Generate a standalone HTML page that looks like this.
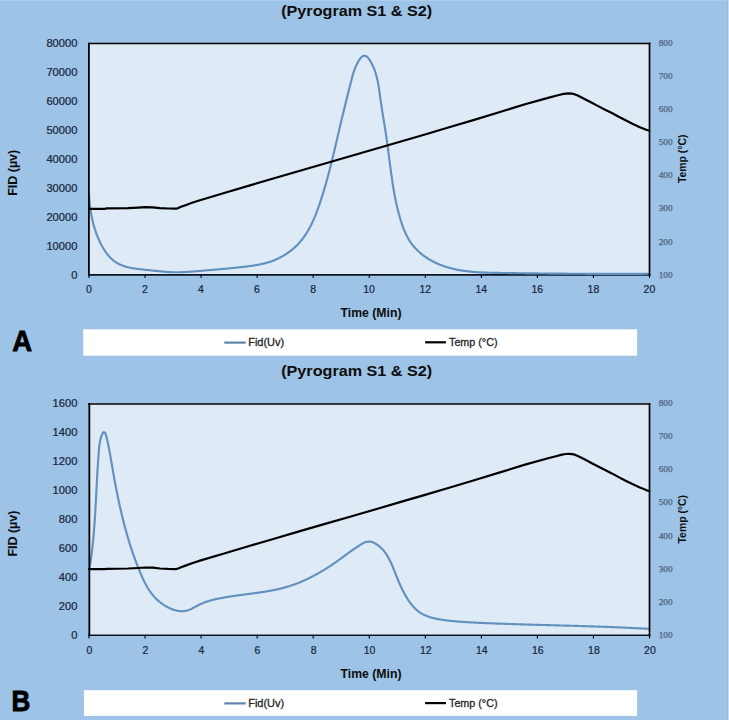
<!DOCTYPE html>
<html><head><meta charset="utf-8"><title>Pyrogram S1 &amp; S2</title>
<style>
html,body{margin:0;padding:0;background:#9dc3e6;}
body{width:729px;height:720px;overflow:hidden;}
svg{display:block;font-family:"Liberation Sans", sans-serif;}
</style></head>
<body>
<svg width="729" height="720" viewBox="0 0 729 720">
<rect width="729" height="720" fill="#9dc3e6"/>
<rect width="729" height="1" fill="#a9cbec"/>
<rect x="727" width="1" height="720" fill="#9bbbd8"/>
<rect x="728" width="1" height="720" fill="#c2ddf5"/>
<rect x="89" y="43.0" width="560.5" height="232.0" fill="#deebf7"/>
<text x="356.7" y="16.0" font-size="15" font-weight="bold" text-anchor="middle" textLength="151" lengthAdjust="spacingAndGlyphs" fill="#0d0d0d">(Pyrogram S1 &amp; S2)</text>
<text x="77.4" y="278.8" font-size="10.6" text-anchor="end" fill="#172640" stroke="#172640" stroke-width="0.22" textLength="6.2" lengthAdjust="spacingAndGlyphs">0</text>
<text x="77.4" y="249.8" font-size="10.6" text-anchor="end" fill="#172640" stroke="#172640" stroke-width="0.22" textLength="31.0" lengthAdjust="spacingAndGlyphs">10000</text>
<text x="77.4" y="220.8" font-size="10.6" text-anchor="end" fill="#172640" stroke="#172640" stroke-width="0.22" textLength="31.0" lengthAdjust="spacingAndGlyphs">20000</text>
<text x="77.4" y="191.8" font-size="10.6" text-anchor="end" fill="#172640" stroke="#172640" stroke-width="0.22" textLength="31.0" lengthAdjust="spacingAndGlyphs">30000</text>
<text x="77.4" y="162.8" font-size="10.6" text-anchor="end" fill="#172640" stroke="#172640" stroke-width="0.22" textLength="31.0" lengthAdjust="spacingAndGlyphs">40000</text>
<text x="77.4" y="133.8" font-size="10.6" text-anchor="end" fill="#172640" stroke="#172640" stroke-width="0.22" textLength="31.0" lengthAdjust="spacingAndGlyphs">50000</text>
<text x="77.4" y="104.8" font-size="10.6" text-anchor="end" fill="#172640" stroke="#172640" stroke-width="0.22" textLength="31.0" lengthAdjust="spacingAndGlyphs">60000</text>
<text x="77.4" y="75.8" font-size="10.6" text-anchor="end" fill="#172640" stroke="#172640" stroke-width="0.22" textLength="31.0" lengthAdjust="spacingAndGlyphs">70000</text>
<text x="77.4" y="46.8" font-size="10.6" text-anchor="end" fill="#172640" stroke="#172640" stroke-width="0.22" textLength="31.0" lengthAdjust="spacingAndGlyphs">80000</text>
<text x="658.7" y="277.6" font-family="Liberation Serif, serif" font-size="8.8" fill="#4b627d" stroke="#4b627d" stroke-width="0.25" textLength="13.8" lengthAdjust="spacingAndGlyphs">100</text>
<text x="658.7" y="244.5" font-family="Liberation Serif, serif" font-size="8.8" fill="#4b627d" stroke="#4b627d" stroke-width="0.25" textLength="13.8" lengthAdjust="spacingAndGlyphs">200</text>
<text x="658.7" y="211.3" font-family="Liberation Serif, serif" font-size="8.8" fill="#4b627d" stroke="#4b627d" stroke-width="0.25" textLength="13.8" lengthAdjust="spacingAndGlyphs">300</text>
<text x="658.7" y="178.2" font-family="Liberation Serif, serif" font-size="8.8" fill="#4b627d" stroke="#4b627d" stroke-width="0.25" textLength="13.8" lengthAdjust="spacingAndGlyphs">400</text>
<text x="658.7" y="145.0" font-family="Liberation Serif, serif" font-size="8.8" fill="#4b627d" stroke="#4b627d" stroke-width="0.25" textLength="13.8" lengthAdjust="spacingAndGlyphs">500</text>
<text x="658.7" y="111.9" font-family="Liberation Serif, serif" font-size="8.8" fill="#4b627d" stroke="#4b627d" stroke-width="0.25" textLength="13.8" lengthAdjust="spacingAndGlyphs">600</text>
<text x="658.7" y="78.7" font-family="Liberation Serif, serif" font-size="8.8" fill="#4b627d" stroke="#4b627d" stroke-width="0.25" textLength="13.8" lengthAdjust="spacingAndGlyphs">700</text>
<text x="658.7" y="45.6" font-family="Liberation Serif, serif" font-size="8.8" fill="#4b627d" stroke="#4b627d" stroke-width="0.25" textLength="13.8" lengthAdjust="spacingAndGlyphs">800</text>
<text x="88.9" y="292.9" font-size="10.0" text-anchor="middle" fill="#172640" stroke="#172640" stroke-width="0.22" textLength="5.8" lengthAdjust="spacingAndGlyphs">0</text>
<text x="145.0" y="292.9" font-size="10.0" text-anchor="middle" fill="#172640" stroke="#172640" stroke-width="0.22" textLength="5.8" lengthAdjust="spacingAndGlyphs">2</text>
<text x="201.0" y="292.9" font-size="10.0" text-anchor="middle" fill="#172640" stroke="#172640" stroke-width="0.22" textLength="5.8" lengthAdjust="spacingAndGlyphs">4</text>
<text x="257.0" y="292.9" font-size="10.0" text-anchor="middle" fill="#172640" stroke="#172640" stroke-width="0.22" textLength="5.8" lengthAdjust="spacingAndGlyphs">6</text>
<text x="313.1" y="292.9" font-size="10.0" text-anchor="middle" fill="#172640" stroke="#172640" stroke-width="0.22" textLength="5.8" lengthAdjust="spacingAndGlyphs">8</text>
<text x="369.1" y="292.9" font-size="10.0" text-anchor="middle" fill="#172640" stroke="#172640" stroke-width="0.22" textLength="11.6" lengthAdjust="spacingAndGlyphs">10</text>
<text x="425.2" y="292.9" font-size="10.0" text-anchor="middle" fill="#172640" stroke="#172640" stroke-width="0.22" textLength="11.6" lengthAdjust="spacingAndGlyphs">12</text>
<text x="481.2" y="292.9" font-size="10.0" text-anchor="middle" fill="#172640" stroke="#172640" stroke-width="0.22" textLength="11.6" lengthAdjust="spacingAndGlyphs">14</text>
<text x="537.3" y="292.9" font-size="10.0" text-anchor="middle" fill="#172640" stroke="#172640" stroke-width="0.22" textLength="11.6" lengthAdjust="spacingAndGlyphs">16</text>
<text x="593.4" y="292.9" font-size="10.0" text-anchor="middle" fill="#172640" stroke="#172640" stroke-width="0.22" textLength="11.6" lengthAdjust="spacingAndGlyphs">18</text>
<text x="649.4" y="292.9" font-size="10.0" text-anchor="middle" fill="#172640" stroke="#172640" stroke-width="0.22" textLength="11.6" lengthAdjust="spacingAndGlyphs">20</text>
<text x="371" y="316.7" font-size="12" font-weight="bold" text-anchor="middle" fill="#0d0d0d" textLength="61" lengthAdjust="spacingAndGlyphs">Time (Min)</text>
<text transform="translate(17,195.8) rotate(-90)" font-size="12.2" font-weight="bold" fill="#0d0d0d" textLength="46" lengthAdjust="spacingAndGlyphs">FID (µv)</text>
<text transform="translate(685.7,183.1) rotate(-90)" font-size="10.5" font-weight="bold" fill="#0d0d0d" textLength="48.5" lengthAdjust="spacingAndGlyphs">Temp (°C)</text>
<path d="M88,274.90 H650.4" stroke="#0c1424" stroke-width="1.6" fill="none"/>
<path d="M89.00,275.00 V278.00" stroke="#000" stroke-width="1.1"/>
<path d="M145.05,275.00 V278.00" stroke="#000" stroke-width="1.1"/>
<path d="M201.10,275.00 V278.00" stroke="#000" stroke-width="1.1"/>
<path d="M257.15,275.00 V278.00" stroke="#000" stroke-width="1.1"/>
<path d="M313.20,275.00 V278.00" stroke="#000" stroke-width="1.1"/>
<path d="M369.25,275.00 V278.00" stroke="#000" stroke-width="1.1"/>
<path d="M425.30,275.00 V278.00" stroke="#000" stroke-width="1.1"/>
<path d="M481.35,275.00 V278.00" stroke="#000" stroke-width="1.1"/>
<path d="M537.40,275.00 V278.00" stroke="#000" stroke-width="1.1"/>
<path d="M593.45,275.00 V278.00" stroke="#000" stroke-width="1.1"/>
<path d="M649.50,275.00 V278.00" stroke="#000" stroke-width="1.1"/>
<path d="M89.03,193.98 L89.07,194.69 L89.11,195.40 L89.15,196.11 L89.20,196.82 L89.24,197.53 L89.29,198.24 L89.34,198.94 L89.40,199.65 L89.45,200.35 L89.51,201.05 L89.58,201.76 L89.64,202.46 L89.71,203.15 L89.78,203.85 L89.86,204.55 L89.93,205.25 L90.01,205.94 L90.09,206.63 L90.18,207.33 L90.27,208.02 L90.36,208.71 L90.46,209.40 L90.56,210.09 L90.66,210.77 L90.76,211.46 L90.87,212.15 L90.98,212.83 L91.10,213.51 L91.22,214.20 L91.34,214.88 L91.47,215.56 L91.60,216.24 L91.73,216.92 L91.87,217.59 L92.01,218.27 L92.16,218.95 L92.31,219.62 L92.46,220.30 L92.62,220.97 L92.78,221.64 L92.94,222.32 L93.11,222.99 L93.28,223.66 L93.46,224.33 L93.64,224.99 L93.83,225.66 L94.02,226.33 L94.21,226.99 L94.41,227.66 L94.62,228.32 L94.82,228.99 L95.04,229.65 L95.25,230.31 L95.47,230.98 L95.70,231.64 L95.93,232.30 L96.17,232.96 L96.41,233.62 L96.65,234.27 L96.90,234.93 L97.16,235.59 L97.42,236.24 L97.68,236.90 L97.95,237.55 L98.23,238.21 L98.51,238.86 L98.80,239.52 L99.09,240.17 L99.38,240.82 L99.68,241.47 L99.99,242.11 L100.30,242.76 L100.62,243.40 L100.95,244.04 L101.28,244.68 L101.61,245.31 L101.95,245.95 L102.30,246.57 L102.65,247.20 L103.01,247.81 L103.38,248.43 L103.75,249.04 L104.13,249.64 L104.51,250.24 L104.90,250.83 L105.30,251.42 L105.70,252.00 L106.11,252.57 L106.53,253.14 L106.95,253.70 L107.39,254.25 L107.82,254.79 L108.27,255.33 L108.72,255.86 L109.18,256.37 L109.64,256.89 L110.12,257.39 L110.60,257.88 L111.08,258.36 L111.58,258.83 L112.08,259.29 L112.59,259.74 L113.11,260.18 L113.63,260.61 L114.17,261.03 L114.71,261.44 L115.26,261.83 L115.81,262.21 L116.38,262.58 L116.95,262.94 L117.53,263.28 L118.12,263.61 L118.72,263.93 L119.32,264.23 L119.93,264.52 L120.55,264.81 L121.18,265.07 L121.81,265.33 L122.45,265.58 L123.09,265.82 L123.74,266.04 L124.40,266.26 L125.06,266.47 L125.73,266.67 L126.40,266.86 L127.08,267.04 L127.76,267.21 L128.44,267.37 L129.13,267.53 L129.83,267.68 L130.52,267.82 L131.22,267.96 L131.92,268.09 L132.63,268.22 L133.34,268.33 L134.05,268.45 L134.76,268.56 L135.48,268.66 L136.19,268.76 L136.91,268.85 L137.63,268.95 L138.35,269.03 L139.07,269.12 L139.79,269.20 L140.51,269.28 L141.23,269.36 L141.95,269.44 L142.67,269.51 L143.39,269.59 L144.10,269.66 L144.82,269.73 L145.53,269.81 L146.25,269.88 L146.96,269.95 L147.67,270.03 L148.37,270.10 L149.08,270.18 L149.78,270.25 L150.48,270.33 L151.18,270.40 L151.88,270.48 L152.58,270.56 L153.27,270.63 L153.97,270.71 L154.66,270.78 L155.35,270.86 L156.04,270.93 L156.73,271.01 L157.41,271.08 L158.10,271.15 L158.79,271.22 L159.47,271.29 L160.15,271.36 L160.84,271.43 L161.52,271.49 L162.20,271.55 L162.89,271.62 L163.57,271.68 L164.25,271.73 L164.93,271.79 L165.61,271.84 L166.29,271.89 L166.98,271.94 L167.66,271.99 L168.34,272.03 L169.02,272.07 L169.71,272.11 L170.39,272.14 L171.07,272.17 L171.76,272.20 L172.44,272.22 L173.13,272.24 L173.82,272.26 L174.51,272.27 L175.20,272.28 L175.89,272.29 L176.58,272.29 L177.27,272.29 L177.97,272.28 L178.66,272.27 L179.36,272.26 L180.05,272.24 L180.75,272.22 L181.45,272.20 L182.15,272.18 L182.85,272.15 L183.55,272.12 L184.25,272.09 L184.95,272.05 L185.65,272.01 L186.35,271.97 L187.06,271.93 L187.76,271.89 L188.46,271.84 L189.17,271.80 L189.87,271.75 L190.58,271.70 L191.28,271.64 L191.99,271.59 L192.69,271.54 L193.40,271.48 L194.10,271.42 L194.81,271.37 L195.51,271.31 L196.22,271.25 L196.92,271.19 L197.63,271.13 L198.33,271.07 L199.03,271.01 L199.74,270.95 L200.44,270.89 L201.14,270.83 L201.85,270.77 L202.55,270.71 L203.25,270.65 L203.95,270.59 L204.65,270.53 L205.35,270.47 L206.05,270.41 L206.75,270.35 L207.45,270.29 L208.15,270.23 L208.85,270.18 L209.55,270.12 L210.25,270.06 L210.95,270.00 L211.64,269.94 L212.34,269.88 L213.04,269.82 L213.74,269.76 L214.43,269.70 L215.13,269.64 L215.83,269.57 L216.52,269.51 L217.22,269.45 L217.91,269.39 L218.61,269.33 L219.30,269.27 L220.00,269.21 L220.69,269.14 L221.39,269.08 L222.08,269.02 L222.78,268.95 L223.47,268.89 L224.17,268.83 L224.86,268.76 L225.56,268.70 L226.25,268.63 L226.94,268.56 L227.64,268.50 L228.33,268.43 L229.02,268.36 L229.72,268.30 L230.41,268.23 L231.10,268.16 L231.80,268.09 L232.49,268.02 L233.18,267.95 L233.88,267.88 L234.57,267.81 L235.26,267.74 L235.96,267.66 L236.65,267.59 L237.34,267.52 L238.04,267.44 L238.73,267.37 L239.42,267.29 L240.12,267.22 L240.81,267.14 L241.50,267.06 L242.20,266.98 L242.89,266.90 L243.59,266.82 L244.28,266.74 L244.97,266.66 L245.67,266.57 L246.36,266.49 L247.06,266.41 L247.75,266.32 L248.44,266.23 L249.14,266.14 L249.83,266.05 L250.53,265.96 L251.22,265.86 L251.91,265.77 L252.61,265.67 L253.30,265.57 L253.99,265.46 L254.68,265.35 L255.37,265.24 L256.06,265.13 L256.75,265.01 L257.44,264.89 L258.13,264.76 L258.82,264.63 L259.50,264.50 L260.19,264.36 L260.87,264.22 L261.56,264.07 L262.24,263.92 L262.92,263.77 L263.60,263.61 L264.28,263.44 L264.96,263.27 L265.63,263.09 L266.31,262.90 L266.98,262.71 L267.65,262.52 L268.33,262.32 L268.99,262.11 L269.66,261.89 L270.33,261.67 L270.99,261.44 L271.65,261.20 L272.31,260.96 L272.97,260.71 L273.63,260.45 L274.28,260.19 L274.93,259.92 L275.58,259.64 L276.23,259.36 L276.87,259.07 L277.51,258.78 L278.15,258.47 L278.79,258.16 L279.42,257.85 L280.05,257.53 L280.68,257.20 L281.30,256.87 L281.92,256.53 L282.54,256.18 L283.15,255.83 L283.76,255.47 L284.36,255.11 L284.96,254.74 L285.56,254.36 L286.15,253.98 L286.74,253.59 L287.33,253.20 L287.91,252.80 L288.48,252.39 L289.05,251.98 L289.62,251.57 L290.18,251.15 L290.74,250.72 L291.29,250.29 L291.84,249.85 L292.38,249.40 L292.92,248.96 L293.45,248.50 L293.97,248.04 L294.49,247.58 L295.01,247.11 L295.52,246.64 L296.02,246.16 L296.52,245.67 L297.01,245.18 L297.49,244.69 L297.97,244.19 L298.45,243.69 L298.91,243.18 L299.38,242.66 L299.83,242.15 L300.28,241.62 L300.73,241.10 L301.17,240.57 L301.60,240.03 L302.03,239.49 L302.45,238.95 L302.87,238.40 L303.28,237.85 L303.69,237.29 L304.09,236.73 L304.49,236.17 L304.88,235.60 L305.27,235.03 L305.65,234.46 L306.03,233.88 L306.40,233.29 L306.77,232.71 L307.14,232.12 L307.50,231.53 L307.85,230.93 L308.20,230.34 L308.55,229.73 L308.89,229.13 L309.23,228.52 L309.57,227.91 L309.90,227.30 L310.22,226.68 L310.54,226.06 L310.86,225.44 L311.18,224.82 L311.49,224.19 L311.80,223.56 L312.10,222.93 L312.40,222.30 L312.70,221.66 L312.99,221.03 L313.28,220.39 L313.57,219.74 L313.85,219.10 L314.13,218.45 L314.41,217.81 L314.68,217.16 L314.95,216.51 L315.22,215.85 L315.49,215.20 L315.75,214.54 L316.01,213.88 L316.27,213.23 L316.52,212.57 L316.78,211.90 L317.03,211.24 L317.27,210.58 L317.52,209.91 L317.76,209.25 L318.00,208.58 L318.24,207.91 L318.48,207.24 L318.71,206.58 L318.95,205.91 L319.18,205.24 L319.41,204.57 L319.64,203.89 L319.86,203.22 L320.09,202.55 L320.31,201.88 L320.53,201.21 L320.75,200.53 L320.97,199.86 L321.18,199.19 L321.40,198.52 L321.62,197.84 L321.83,197.17 L322.04,196.50 L322.25,195.83 L322.46,195.15 L322.67,194.48 L322.88,193.81 L323.08,193.14 L323.29,192.46 L323.49,191.79 L323.70,191.12 L323.90,190.45 L324.10,189.77 L324.30,189.10 L324.50,188.43 L324.69,187.76 L324.89,187.08 L325.08,186.41 L325.28,185.74 L325.47,185.07 L325.66,184.39 L325.86,183.72 L326.05,183.05 L326.24,182.37 L326.42,181.70 L326.61,181.03 L326.80,180.36 L326.99,179.68 L327.17,179.01 L327.35,178.34 L327.54,177.66 L327.72,176.99 L327.90,176.32 L328.08,175.64 L328.26,174.97 L328.44,174.30 L328.62,173.62 L328.80,172.95 L328.98,172.28 L329.15,171.60 L329.33,170.93 L329.50,170.25 L329.68,169.58 L329.85,168.91 L330.02,168.23 L330.20,167.56 L330.37,166.88 L330.54,166.21 L330.71,165.54 L330.88,164.86 L331.05,164.19 L331.22,163.51 L331.39,162.84 L331.56,162.16 L331.72,161.49 L331.89,160.81 L332.06,160.14 L332.22,159.46 L332.39,158.79 L332.55,158.11 L332.72,157.43 L332.88,156.76 L333.05,156.08 L333.21,155.41 L333.37,154.73 L333.54,154.06 L333.70,153.38 L333.86,152.70 L334.02,152.03 L334.18,151.35 L334.34,150.67 L334.51,150.00 L334.67,149.32 L334.83,148.64 L334.99,147.96 L335.15,147.29 L335.31,146.61 L335.47,145.93 L335.63,145.25 L335.78,144.57 L335.94,143.90 L336.10,143.22 L336.26,142.54 L336.42,141.86 L336.58,141.18 L336.74,140.50 L336.90,139.82 L337.06,139.14 L337.21,138.46 L337.37,137.78 L337.53,137.11 L337.69,136.43 L337.85,135.74 L338.01,135.06 L338.17,134.38 L338.32,133.70 L338.48,133.02 L338.64,132.34 L338.80,131.66 L338.96,130.98 L339.12,130.30 L339.28,129.61 L339.44,128.93 L339.60,128.25 L339.76,127.57 L339.92,126.89 L340.08,126.20 L340.24,125.52 L340.40,124.84 L340.56,124.15 L340.72,123.47 L340.88,122.79 L341.05,122.10 L341.21,121.42 L341.37,120.73 L341.53,120.05 L341.70,119.36 L341.86,118.68 L342.02,117.99 L342.19,117.31 L342.35,116.62 L342.52,115.94 L342.68,115.25 L342.85,114.57 L343.01,113.88 L343.18,113.20 L343.34,112.51 L343.51,111.83 L343.67,111.14 L343.84,110.46 L344.01,109.77 L344.17,109.09 L344.34,108.41 L344.51,107.72 L344.67,107.04 L344.84,106.35 L345.01,105.67 L345.18,104.99 L345.34,104.30 L345.51,103.62 L345.68,102.94 L345.85,102.26 L346.01,101.57 L346.18,100.89 L346.35,100.21 L346.52,99.53 L346.69,98.85 L346.86,98.17 L347.03,97.49 L347.20,96.81 L347.37,96.13 L347.53,95.45 L347.70,94.77 L347.87,94.10 L348.04,93.42 L348.21,92.74 L348.38,92.07 L348.55,91.39 L348.72,90.72 L348.89,90.04 L349.06,89.37 L349.23,88.70 L349.40,88.03 L349.57,87.35 L349.74,86.68 L349.91,86.01 L350.08,85.34 L350.25,84.67 L350.42,84.01 L350.59,83.34 L350.76,82.67 L350.93,82.01 L351.10,81.34 L351.27,80.68 L351.44,80.02 L351.61,79.35 L351.79,78.69 L351.96,78.03 L352.14,77.37 L352.32,76.71 L352.50,76.04 L352.69,75.38 L352.88,74.72 L353.08,74.06 L353.28,73.39 L353.49,72.73 L353.71,72.06 L353.93,71.40 L354.16,70.73 L354.40,70.06 L354.65,69.39 L354.91,68.71 L355.18,68.04 L355.45,67.36 L355.74,66.68 L356.04,66.00 L356.35,65.32 L356.67,64.63 L357.01,63.94 L357.36,63.25 L357.72,62.56 L358.10,61.86 L358.49,61.17 L358.90,60.48 L359.32,59.82 L359.75,59.18 L360.20,58.57 L360.65,58.01 L361.12,57.49 L361.60,57.03 L362.10,56.63 L362.60,56.30 L363.11,56.04 L363.62,55.86 L364.13,55.76 L364.63,55.74 L365.12,55.81 L365.61,55.95 L366.08,56.18 L366.55,56.46 L367.01,56.81 L367.46,57.22 L367.90,57.67 L368.33,58.17 L368.75,58.71 L369.16,59.27 L369.56,59.87 L369.95,60.48 L370.34,61.10 L370.71,61.74 L371.06,62.37 L371.41,63.01 L371.75,63.65 L372.08,64.29 L372.40,64.94 L372.71,65.59 L373.01,66.24 L373.30,66.89 L373.58,67.54 L373.85,68.20 L374.12,68.86 L374.37,69.52 L374.62,70.18 L374.86,70.84 L375.09,71.51 L375.32,72.17 L375.53,72.84 L375.74,73.51 L375.95,74.18 L376.14,74.86 L376.33,75.53 L376.52,76.21 L376.69,76.89 L376.87,77.57 L377.03,78.25 L377.19,78.93 L377.35,79.61 L377.50,80.29 L377.65,80.98 L377.79,81.67 L377.92,82.35 L378.06,83.04 L378.19,83.73 L378.31,84.42 L378.43,85.11 L378.55,85.80 L378.67,86.49 L378.78,87.19 L378.89,87.88 L378.99,88.57 L379.10,89.27 L379.20,89.96 L379.30,90.66 L379.40,91.35 L379.50,92.05 L379.60,92.74 L379.69,93.44 L379.79,94.13 L379.88,94.83 L379.98,95.53 L380.07,96.22 L380.16,96.92 L380.26,97.62 L380.35,98.31 L380.45,99.01 L380.54,99.70 L380.64,100.40 L380.74,101.09 L380.84,101.79 L380.94,102.48 L381.04,103.18 L381.14,103.87 L381.24,104.57 L381.35,105.26 L381.45,105.95 L381.56,106.65 L381.66,107.34 L381.77,108.03 L381.88,108.72 L381.98,109.42 L382.09,110.11 L382.20,110.80 L382.31,111.49 L382.42,112.18 L382.53,112.88 L382.64,113.57 L382.75,114.26 L382.86,114.95 L382.97,115.64 L383.08,116.33 L383.20,117.02 L383.31,117.71 L383.42,118.40 L383.53,119.09 L383.64,119.78 L383.76,120.48 L383.87,121.17 L383.98,121.86 L384.09,122.55 L384.21,123.24 L384.32,123.93 L384.43,124.62 L384.54,125.31 L384.65,126.00 L384.76,126.69 L384.88,127.38 L384.99,128.07 L385.10,128.76 L385.21,129.45 L385.32,130.14 L385.42,130.83 L385.53,131.52 L385.64,132.21 L385.75,132.90 L385.85,133.59 L385.96,134.28 L386.07,134.97 L386.17,135.66 L386.27,136.35 L386.38,137.04 L386.48,137.73 L386.58,138.42 L386.68,139.11 L386.78,139.81 L386.88,140.50 L386.98,141.19 L387.08,141.88 L387.17,142.57 L387.27,143.26 L387.36,143.96 L387.46,144.65 L387.55,145.34 L387.64,146.03 L387.74,146.72 L387.83,147.42 L387.92,148.11 L388.01,148.80 L388.10,149.49 L388.19,150.19 L388.28,150.88 L388.37,151.57 L388.46,152.27 L388.55,152.96 L388.64,153.65 L388.73,154.34 L388.82,155.04 L388.91,155.73 L388.99,156.42 L389.08,157.12 L389.17,157.81 L389.26,158.50 L389.34,159.20 L389.43,159.89 L389.52,160.58 L389.61,161.27 L389.70,161.97 L389.78,162.66 L389.87,163.35 L389.96,164.05 L390.05,164.74 L390.14,165.43 L390.23,166.13 L390.32,166.82 L390.41,167.51 L390.50,168.20 L390.59,168.90 L390.68,169.59 L390.77,170.28 L390.86,170.98 L390.95,171.67 L391.05,172.36 L391.14,173.05 L391.24,173.74 L391.33,174.44 L391.43,175.13 L391.52,175.82 L391.62,176.51 L391.72,177.20 L391.82,177.90 L391.92,178.59 L392.02,179.28 L392.12,179.97 L392.22,180.66 L392.32,181.35 L392.43,182.04 L392.53,182.74 L392.64,183.43 L392.74,184.12 L392.85,184.81 L392.96,185.50 L393.07,186.19 L393.18,186.88 L393.30,187.57 L393.41,188.26 L393.53,188.95 L393.64,189.64 L393.76,190.33 L393.88,191.01 L394.00,191.70 L394.12,192.39 L394.25,193.08 L394.37,193.77 L394.50,194.46 L394.63,195.14 L394.76,195.83 L394.89,196.52 L395.02,197.21 L395.16,197.89 L395.29,198.58 L395.43,199.27 L395.57,199.95 L395.71,200.64 L395.86,201.32 L396.00,202.01 L396.15,202.70 L396.30,203.38 L396.45,204.07 L396.60,204.75 L396.76,205.43 L396.92,206.12 L397.08,206.80 L397.24,207.48 L397.40,208.17 L397.57,208.85 L397.73,209.53 L397.90,210.22 L398.08,210.90 L398.25,211.58 L398.43,212.26 L398.61,212.94 L398.79,213.62 L398.97,214.30 L399.16,214.98 L399.35,215.66 L399.54,216.34 L399.73,217.02 L399.93,217.70 L400.13,218.38 L400.33,219.06 L400.54,219.73 L400.74,220.41 L400.96,221.08 L401.17,221.76 L401.39,222.43 L401.61,223.10 L401.83,223.77 L402.06,224.44 L402.30,225.11 L402.53,225.77 L402.77,226.43 L403.02,227.10 L403.27,227.76 L403.52,228.41 L403.78,229.07 L404.04,229.72 L404.31,230.37 L404.58,231.02 L404.86,231.66 L405.14,232.30 L405.43,232.94 L405.73,233.57 L406.03,234.20 L406.33,234.83 L406.64,235.46 L406.96,236.08 L407.28,236.70 L407.61,237.31 L407.94,237.92 L408.28,238.53 L408.63,239.13 L408.98,239.72 L409.35,240.32 L409.71,240.90 L410.09,241.49 L410.47,242.07 L410.86,242.64 L411.25,243.21 L411.66,243.77 L412.07,244.33 L412.49,244.89 L412.91,245.43 L413.35,245.98 L413.79,246.51 L414.24,247.04 L414.70,247.57 L415.16,248.09 L415.64,248.60 L416.12,249.11 L416.61,249.61 L417.10,250.10 L417.60,250.59 L418.11,251.08 L418.63,251.56 L419.15,252.03 L419.68,252.49 L420.21,252.95 L420.76,253.41 L421.30,253.86 L421.85,254.30 L422.41,254.73 L422.97,255.16 L423.54,255.59 L424.11,256.01 L424.69,256.42 L425.27,256.82 L425.86,257.22 L426.45,257.62 L427.04,258.01 L427.64,258.39 L428.24,258.76 L428.84,259.13 L429.45,259.50 L430.06,259.85 L430.68,260.20 L431.29,260.55 L431.91,260.89 L432.54,261.22 L433.16,261.55 L433.79,261.87 L434.41,262.18 L435.04,262.49 L435.67,262.79 L436.31,263.09 L436.94,263.37 L437.58,263.66 L438.22,263.94 L438.86,264.21 L439.50,264.47 L440.14,264.74 L440.79,264.99 L441.43,265.24 L442.08,265.48 L442.73,265.72 L443.38,265.96 L444.03,266.18 L444.69,266.41 L445.34,266.62 L446.00,266.84 L446.66,267.04 L447.32,267.25 L447.98,267.44 L448.64,267.64 L449.31,267.83 L449.97,268.01 L450.64,268.19 L451.31,268.36 L451.97,268.53 L452.64,268.70 L453.32,268.86 L453.99,269.01 L454.66,269.16 L455.34,269.31 L456.01,269.46 L456.69,269.60 L457.37,269.73 L458.05,269.86 L458.73,269.99 L459.41,270.12 L460.09,270.24 L460.77,270.35 L461.46,270.46 L462.14,270.57 L462.83,270.68 L463.52,270.78 L464.21,270.88 L464.89,270.98 L465.58,271.07 L466.27,271.16 L466.97,271.25 L467.66,271.33 L468.35,271.41 L469.04,271.49 L469.74,271.56 L470.43,271.63 L471.13,271.70 L471.83,271.77 L472.52,271.83 L473.22,271.89 L473.92,271.95 L474.62,272.00 L475.32,272.06 L476.02,272.11 L476.72,272.16 L477.42,272.21 L478.12,272.25 L478.82,272.29 L479.52,272.33 L480.23,272.37 L480.93,272.41 L481.63,272.45 L482.34,272.48 L483.04,272.51 L483.75,272.54 L484.45,272.57 L485.16,272.60 L485.86,272.62 L486.57,272.65 L487.27,272.67 L487.98,272.69 L488.68,272.71 L489.39,272.73 L490.10,272.75 L490.80,272.77 L491.51,272.79 L492.22,272.80 L492.92,272.82 L493.63,272.83 L494.34,272.85 L495.04,272.86 L495.75,272.87 L496.46,272.89 L497.16,272.90 L497.87,272.91 L498.58,272.92 L499.28,272.93 L499.99,272.94 L500.69,272.96 L501.40,272.97 L502.11,272.98 L502.81,272.99 L503.52,273.00 L504.22,273.01 L504.93,273.02 L505.63,273.03 L506.33,273.04 L507.04,273.05 L507.74,273.06 L508.45,273.07 L509.15,273.08 L509.85,273.09 L510.56,273.10 L511.26,273.11 L511.96,273.12 L512.67,273.13 L513.37,273.14 L514.07,273.15 L514.78,273.16 L515.48,273.17 L516.18,273.18 L516.88,273.19 L517.59,273.20 L518.29,273.21 L518.99,273.22 L519.69,273.23 L520.39,273.24 L521.09,273.25 L521.79,273.26 L522.50,273.26 L523.20,273.27 L523.90,273.28 L524.60,273.29 L525.30,273.30 L526.00,273.31 L526.70,273.32 L527.40,273.33 L528.10,273.33 L528.80,273.34 L529.50,273.35 L530.20,273.36 L530.90,273.37 L531.60,273.38 L532.30,273.38 L533.00,273.39 L533.70,273.40 L534.40,273.41 L535.10,273.41 L535.80,273.42 L536.50,273.43 L537.19,273.44 L537.89,273.44 L538.59,273.45 L539.29,273.46 L539.99,273.47 L540.69,273.47 L541.39,273.48 L542.08,273.49 L542.78,273.50 L543.48,273.50 L544.18,273.51 L544.88,273.52 L545.57,273.52 L546.27,273.53 L546.97,273.54 L547.67,273.54 L548.37,273.55 L549.06,273.56 L549.76,273.56 L550.46,273.57 L551.16,273.57 L551.85,273.58 L552.55,273.59 L553.25,273.59 L553.95,273.60 L554.64,273.60 L555.34,273.61 L556.04,273.62 L556.73,273.62 L557.43,273.63 L558.13,273.63 L558.82,273.64 L559.52,273.64 L560.22,273.65 L560.92,273.65 L561.61,273.66 L562.31,273.66 L563.01,273.67 L563.70,273.67 L564.40,273.68 L565.10,273.68 L565.79,273.69 L566.49,273.69 L567.19,273.70 L567.88,273.70 L568.58,273.71 L569.28,273.71 L569.97,273.72 L570.67,273.72 L571.37,273.72 L572.06,273.73 L572.76,273.73 L573.45,273.74 L574.15,273.74 L574.85,273.74 L575.54,273.75 L576.24,273.75 L576.94,273.76 L577.63,273.76 L578.33,273.76 L579.03,273.77 L579.72,273.77 L580.42,273.77 L581.12,273.78 L581.81,273.78 L582.51,273.78 L583.21,273.79 L583.90,273.79 L584.60,273.79 L585.30,273.80 L585.99,273.80 L586.69,273.80 L587.39,273.80 L588.08,273.81 L588.78,273.81 L589.48,273.81 L590.18,273.81 L590.87,273.82 L591.57,273.82 L592.27,273.82 L592.96,273.82 L593.66,273.82 L594.36,273.83 L595.06,273.83 L595.75,273.83 L596.45,273.83 L597.15,273.83 L597.85,273.84 L598.54,273.84 L599.24,273.84 L599.94,273.84 L600.64,273.84 L601.33,273.84 L602.03,273.84 L602.73,273.85 L603.43,273.85 L604.13,273.85 L604.82,273.85 L605.52,273.85 L606.22,273.85 L606.92,273.85 L607.62,273.85 L608.32,273.85 L609.02,273.85 L609.71,273.85 L610.41,273.85 L611.11,273.86 L611.81,273.86 L612.51,273.86 L613.21,273.86 L613.91,273.86 L614.61,273.86 L615.31,273.86 L616.01,273.86 L616.71,273.86 L617.41,273.86 L618.11,273.86 L618.81,273.86 L619.51,273.85 L620.21,273.85 L620.91,273.85 L621.61,273.85 L622.31,273.85 L623.01,273.85 L623.71,273.85 L624.41,273.85 L625.11,273.85 L625.81,273.85 L626.52,273.85 L627.22,273.85 L627.92,273.84 L628.62,273.84 L629.32,273.84 L630.02,273.84 L630.73,273.84 L631.43,273.84 L632.13,273.84 L632.83,273.83 L633.54,273.83 L634.24,273.83 L634.94,273.83 L635.65,273.83 L636.35,273.83 L637.05,273.82 L637.76,273.82 L638.46,273.82 L639.16,273.82 L639.87,273.81 L640.57,273.81 L641.28,273.81 L641.98,273.81 L642.69,273.80 L643.39,273.80 L644.10,273.80 L644.80,273.80 L645.51,273.79 L646.21,273.79 L646.92,273.79 L647.62,273.78 L648.33,273.78 L649.04,273.78" fill="none" stroke="#6290bf" stroke-width="2.15" stroke-linejoin="round" stroke-linecap="round"/>
<path d="M89.10,208.80 L104.50,208.80 L107.00,208.40 L128.00,208.10 L137.90,207.60 L145.30,207.10 L152.70,207.30 L160.00,208.10 L168.20,208.50 L175.80,208.70 L178.20,208.10 L181.00,206.80 L185.50,205.20 L192.00,202.80 L200.00,200.27 L225.00,192.78 L250.00,185.38 L275.00,178.05 L300.00,170.77 L325.00,163.53 L350.00,156.30 L375.00,149.05 L400.00,141.78 L425.00,134.46 L450.00,127.07 L475.00,119.59 L500.00,111.99 L525.00,104.27 L549.00,97.60 L556.00,95.80 L562.00,94.20 L566.00,93.60 L569.60,93.40 L573.70,93.90 L577.80,95.60 L584.00,98.70 L590.90,102.30 L597.70,105.90 L604.60,109.40 L611.90,113.00 L618.70,116.70 L625.60,120.30 L632.40,123.70 L639.30,126.90 L646.20,129.70 L649.50,130.80" fill="none" stroke="#000" stroke-width="2.2" stroke-linejoin="round" stroke-linecap="round"/>
<path d="M88.90,42.70 V275.80" stroke="#000" stroke-width="1.8" fill="none"/>
<path d="M88,43.50 H650.4" stroke="#000" stroke-width="1.5" fill="none"/>
<path d="M649.5,42.70 V275.80" stroke="#000" stroke-width="1.7" fill="none"/>
<text x="12.3" y="351.0" font-size="29.8" font-weight="bold" fill="#000" stroke="#000" stroke-width="0.8" textLength="19.9" lengthAdjust="spacingAndGlyphs">A</text>
<rect x="83.3" y="329.3" width="553.8" height="26.4" fill="#fff"/>
<path d="M224.3,342.60 H245.7" stroke="#5f84aa" stroke-width="2.2"/>
<text x="248.2" y="346.00" font-size="11" fill="#262626" stroke="#262626" stroke-width="0.3" textLength="36" lengthAdjust="spacingAndGlyphs">Fid(Uv)</text>
<path d="M425.1,342.30 H445.9" stroke="#000" stroke-width="2.2"/>
<text x="449" y="346.00" font-size="11" fill="#262626" stroke="#262626" stroke-width="0.3" textLength="48.5" lengthAdjust="spacingAndGlyphs">Temp (°C)</text>
<rect x="89" y="403.4" width="560.5" height="232.0" fill="#deebf7"/>
<text x="356.7" y="376.4" font-size="15" font-weight="bold" text-anchor="middle" textLength="151" lengthAdjust="spacingAndGlyphs" fill="#0d0d0d">(Pyrogram S1 &amp; S2)</text>
<text x="77.4" y="639.2" font-size="10.6" text-anchor="end" fill="#172640" stroke="#172640" stroke-width="0.22" textLength="6.2" lengthAdjust="spacingAndGlyphs">0</text>
<text x="77.4" y="610.2" font-size="10.6" text-anchor="end" fill="#172640" stroke="#172640" stroke-width="0.22" textLength="18.6" lengthAdjust="spacingAndGlyphs">200</text>
<text x="77.4" y="581.2" font-size="10.6" text-anchor="end" fill="#172640" stroke="#172640" stroke-width="0.22" textLength="18.6" lengthAdjust="spacingAndGlyphs">400</text>
<text x="77.4" y="552.2" font-size="10.6" text-anchor="end" fill="#172640" stroke="#172640" stroke-width="0.22" textLength="18.6" lengthAdjust="spacingAndGlyphs">600</text>
<text x="77.4" y="523.2" font-size="10.6" text-anchor="end" fill="#172640" stroke="#172640" stroke-width="0.22" textLength="18.6" lengthAdjust="spacingAndGlyphs">800</text>
<text x="77.4" y="494.2" font-size="10.6" text-anchor="end" fill="#172640" stroke="#172640" stroke-width="0.22" textLength="24.8" lengthAdjust="spacingAndGlyphs">1000</text>
<text x="77.4" y="465.2" font-size="10.6" text-anchor="end" fill="#172640" stroke="#172640" stroke-width="0.22" textLength="24.8" lengthAdjust="spacingAndGlyphs">1200</text>
<text x="77.4" y="436.2" font-size="10.6" text-anchor="end" fill="#172640" stroke="#172640" stroke-width="0.22" textLength="24.8" lengthAdjust="spacingAndGlyphs">1400</text>
<text x="77.4" y="407.2" font-size="10.6" text-anchor="end" fill="#172640" stroke="#172640" stroke-width="0.22" textLength="24.8" lengthAdjust="spacingAndGlyphs">1600</text>
<text x="658.7" y="638.0" font-family="Liberation Serif, serif" font-size="8.8" fill="#4b627d" stroke="#4b627d" stroke-width="0.25" textLength="13.8" lengthAdjust="spacingAndGlyphs">100</text>
<text x="658.7" y="604.9" font-family="Liberation Serif, serif" font-size="8.8" fill="#4b627d" stroke="#4b627d" stroke-width="0.25" textLength="13.8" lengthAdjust="spacingAndGlyphs">200</text>
<text x="658.7" y="571.7" font-family="Liberation Serif, serif" font-size="8.8" fill="#4b627d" stroke="#4b627d" stroke-width="0.25" textLength="13.8" lengthAdjust="spacingAndGlyphs">300</text>
<text x="658.7" y="538.6" font-family="Liberation Serif, serif" font-size="8.8" fill="#4b627d" stroke="#4b627d" stroke-width="0.25" textLength="13.8" lengthAdjust="spacingAndGlyphs">400</text>
<text x="658.7" y="505.4" font-family="Liberation Serif, serif" font-size="8.8" fill="#4b627d" stroke="#4b627d" stroke-width="0.25" textLength="13.8" lengthAdjust="spacingAndGlyphs">500</text>
<text x="658.7" y="472.3" font-family="Liberation Serif, serif" font-size="8.8" fill="#4b627d" stroke="#4b627d" stroke-width="0.25" textLength="13.8" lengthAdjust="spacingAndGlyphs">600</text>
<text x="658.7" y="439.1" font-family="Liberation Serif, serif" font-size="8.8" fill="#4b627d" stroke="#4b627d" stroke-width="0.25" textLength="13.8" lengthAdjust="spacingAndGlyphs">700</text>
<text x="658.7" y="406.0" font-family="Liberation Serif, serif" font-size="8.8" fill="#4b627d" stroke="#4b627d" stroke-width="0.25" textLength="13.8" lengthAdjust="spacingAndGlyphs">800</text>
<text x="89.4" y="654.1" font-size="10.0" text-anchor="middle" fill="#172640" stroke="#172640" stroke-width="0.22" textLength="5.8" lengthAdjust="spacingAndGlyphs">0</text>
<text x="145.5" y="654.1" font-size="10.0" text-anchor="middle" fill="#172640" stroke="#172640" stroke-width="0.22" textLength="5.8" lengthAdjust="spacingAndGlyphs">2</text>
<text x="201.5" y="654.1" font-size="10.0" text-anchor="middle" fill="#172640" stroke="#172640" stroke-width="0.22" textLength="5.8" lengthAdjust="spacingAndGlyphs">4</text>
<text x="257.5" y="654.1" font-size="10.0" text-anchor="middle" fill="#172640" stroke="#172640" stroke-width="0.22" textLength="5.8" lengthAdjust="spacingAndGlyphs">6</text>
<text x="313.6" y="654.1" font-size="10.0" text-anchor="middle" fill="#172640" stroke="#172640" stroke-width="0.22" textLength="5.8" lengthAdjust="spacingAndGlyphs">8</text>
<text x="369.6" y="654.1" font-size="10.0" text-anchor="middle" fill="#172640" stroke="#172640" stroke-width="0.22" textLength="11.6" lengthAdjust="spacingAndGlyphs">10</text>
<text x="425.7" y="654.1" font-size="10.0" text-anchor="middle" fill="#172640" stroke="#172640" stroke-width="0.22" textLength="11.6" lengthAdjust="spacingAndGlyphs">12</text>
<text x="481.8" y="654.1" font-size="10.0" text-anchor="middle" fill="#172640" stroke="#172640" stroke-width="0.22" textLength="11.6" lengthAdjust="spacingAndGlyphs">14</text>
<text x="537.8" y="654.1" font-size="10.0" text-anchor="middle" fill="#172640" stroke="#172640" stroke-width="0.22" textLength="11.6" lengthAdjust="spacingAndGlyphs">16</text>
<text x="593.9" y="654.1" font-size="10.0" text-anchor="middle" fill="#172640" stroke="#172640" stroke-width="0.22" textLength="11.6" lengthAdjust="spacingAndGlyphs">18</text>
<text x="649.9" y="654.1" font-size="10.0" text-anchor="middle" fill="#172640" stroke="#172640" stroke-width="0.22" textLength="11.6" lengthAdjust="spacingAndGlyphs">20</text>
<text x="371" y="677.5" font-size="12" font-weight="bold" text-anchor="middle" fill="#0d0d0d" textLength="61" lengthAdjust="spacingAndGlyphs">Time (Min)</text>
<text transform="translate(17,556.6) rotate(-90)" font-size="12.2" font-weight="bold" fill="#0d0d0d" textLength="46" lengthAdjust="spacingAndGlyphs">FID (µv)</text>
<text transform="translate(685.7,543.5) rotate(-90)" font-size="10.5" font-weight="bold" fill="#0d0d0d" textLength="48.5" lengthAdjust="spacingAndGlyphs">Temp (°C)</text>
<path d="M88,635.30 H650.4" stroke="#0c1424" stroke-width="1.6" fill="none"/>
<path d="M89.00,635.40 V638.40" stroke="#000" stroke-width="1.1"/>
<path d="M145.05,635.40 V638.40" stroke="#000" stroke-width="1.1"/>
<path d="M201.10,635.40 V638.40" stroke="#000" stroke-width="1.1"/>
<path d="M257.15,635.40 V638.40" stroke="#000" stroke-width="1.1"/>
<path d="M313.20,635.40 V638.40" stroke="#000" stroke-width="1.1"/>
<path d="M369.25,635.40 V638.40" stroke="#000" stroke-width="1.1"/>
<path d="M425.30,635.40 V638.40" stroke="#000" stroke-width="1.1"/>
<path d="M481.35,635.40 V638.40" stroke="#000" stroke-width="1.1"/>
<path d="M537.40,635.40 V638.40" stroke="#000" stroke-width="1.1"/>
<path d="M593.45,635.40 V638.40" stroke="#000" stroke-width="1.1"/>
<path d="M649.50,635.40 V638.40" stroke="#000" stroke-width="1.1"/>
<path d="M89.82,566.62 L89.93,565.93 L90.04,565.25 L90.14,564.56 L90.25,563.88 L90.35,563.19 L90.45,562.50 L90.55,561.81 L90.65,561.12 L90.75,560.43 L90.84,559.74 L90.94,559.05 L91.03,558.36 L91.13,557.67 L91.22,556.98 L91.31,556.29 L91.40,555.60 L91.49,554.90 L91.58,554.21 L91.66,553.52 L91.75,552.82 L91.83,552.13 L91.92,551.43 L92.00,550.74 L92.08,550.04 L92.16,549.35 L92.24,548.65 L92.32,547.95 L92.40,547.26 L92.48,546.56 L92.55,545.86 L92.63,545.17 L92.70,544.47 L92.77,543.77 L92.84,543.07 L92.91,542.37 L92.98,541.68 L93.05,540.98 L93.12,540.28 L93.19,539.58 L93.26,538.88 L93.32,538.18 L93.39,537.48 L93.45,536.78 L93.51,536.08 L93.58,535.39 L93.64,534.69 L93.70,533.99 L93.76,533.29 L93.82,532.59 L93.88,531.89 L93.93,531.19 L93.99,530.49 L94.05,529.79 L94.10,529.09 L94.16,528.39 L94.21,527.69 L94.26,527.00 L94.32,526.30 L94.37,525.60 L94.42,524.90 L94.47,524.20 L94.52,523.50 L94.57,522.80 L94.62,522.11 L94.67,521.41 L94.71,520.71 L94.76,520.01 L94.81,519.32 L94.85,518.62 L94.90,517.92 L94.94,517.22 L94.99,516.53 L95.03,515.83 L95.08,515.13 L95.12,514.44 L95.16,513.74 L95.20,513.04 L95.25,512.34 L95.29,511.65 L95.33,510.95 L95.37,510.25 L95.41,509.56 L95.45,508.86 L95.49,508.17 L95.53,507.47 L95.57,506.77 L95.61,506.08 L95.64,505.38 L95.68,504.68 L95.72,503.99 L95.76,503.29 L95.79,502.59 L95.83,501.90 L95.87,501.20 L95.90,500.51 L95.94,499.81 L95.98,499.11 L96.01,498.42 L96.05,497.72 L96.09,497.02 L96.12,496.33 L96.16,495.63 L96.19,494.93 L96.23,494.24 L96.26,493.54 L96.30,492.85 L96.34,492.15 L96.37,491.45 L96.41,490.76 L96.44,490.06 L96.48,489.36 L96.51,488.67 L96.55,487.97 L96.59,487.27 L96.62,486.57 L96.66,485.88 L96.69,485.18 L96.73,484.48 L96.77,483.79 L96.80,483.09 L96.84,482.39 L96.88,481.69 L96.91,481.00 L96.95,480.30 L96.99,479.60 L97.02,478.90 L97.06,478.20 L97.10,477.51 L97.14,476.81 L97.18,476.11 L97.22,475.41 L97.26,474.71 L97.30,474.01 L97.34,473.31 L97.38,472.61 L97.42,471.92 L97.46,471.22 L97.50,470.52 L97.54,469.82 L97.58,469.12 L97.63,468.42 L97.67,467.72 L97.71,467.02 L97.76,466.32 L97.80,465.61 L97.85,464.91 L97.89,464.21 L97.94,463.51 L97.99,462.81 L98.03,462.11 L98.08,461.41 L98.13,460.70 L98.18,460.00 L98.23,459.30 L98.28,458.60 L98.33,457.89 L98.38,457.19 L98.43,456.49 L98.49,455.78 L98.54,455.08 L98.60,454.38 L98.65,453.67 L98.71,452.97 L98.76,452.26 L98.82,451.56 L98.88,450.85 L98.94,450.15 L99.00,449.44 L99.06,448.74 L99.13,448.03 L99.20,447.33 L99.27,446.63 L99.35,445.92 L99.43,445.23 L99.52,444.53 L99.62,443.83 L99.73,443.14 L99.84,442.45 L99.96,441.76 L100.09,441.08 L100.24,440.40 L100.39,439.72 L100.56,439.05 L100.73,438.38 L100.93,437.72 L101.13,437.06 L101.35,436.40 L101.58,435.76 L101.83,435.11 L102.10,434.48 L102.39,433.85 L102.69,433.24 L103.01,432.71 L103.37,432.33 L103.75,432.16 L104.17,432.23 L104.58,432.50 L104.97,432.92 L105.31,433.43 L105.59,434.02 L105.84,434.66 L106.06,435.35 L106.25,436.07 L106.44,436.79 L106.62,437.52 L106.79,438.24 L106.96,438.96 L107.13,439.68 L107.30,440.40 L107.46,441.11 L107.62,441.82 L107.78,442.53 L107.93,443.24 L108.08,443.95 L108.23,444.66 L108.37,445.36 L108.52,446.06 L108.66,446.76 L108.80,447.46 L108.93,448.16 L109.07,448.86 L109.20,449.55 L109.33,450.25 L109.46,450.94 L109.59,451.63 L109.72,452.33 L109.84,453.02 L109.96,453.71 L110.09,454.39 L110.21,455.08 L110.33,455.77 L110.45,456.46 L110.56,457.14 L110.68,457.83 L110.80,458.51 L110.91,459.20 L111.03,459.88 L111.15,460.57 L111.26,461.25 L111.38,461.93 L111.49,462.62 L111.61,463.30 L111.72,463.98 L111.84,464.67 L111.95,465.35 L112.07,466.04 L112.19,466.72 L112.31,467.40 L112.42,468.09 L112.54,468.77 L112.66,469.46 L112.78,470.14 L112.90,470.83 L113.02,471.51 L113.14,472.20 L113.26,472.88 L113.38,473.57 L113.50,474.25 L113.62,474.94 L113.75,475.62 L113.87,476.31 L113.99,477.00 L114.12,477.68 L114.24,478.37 L114.37,479.05 L114.49,479.74 L114.62,480.43 L114.75,481.11 L114.88,481.80 L115.00,482.49 L115.13,483.17 L115.26,483.86 L115.39,484.54 L115.52,485.23 L115.65,485.92 L115.78,486.60 L115.92,487.29 L116.05,487.98 L116.18,488.66 L116.32,489.35 L116.45,490.03 L116.59,490.72 L116.72,491.41 L116.86,492.09 L117.00,492.78 L117.14,493.47 L117.27,494.15 L117.41,494.84 L117.55,495.52 L117.69,496.21 L117.84,496.90 L117.98,497.58 L118.12,498.27 L118.27,498.95 L118.41,499.64 L118.55,500.32 L118.70,501.01 L118.85,501.69 L119.00,502.38 L119.14,503.06 L119.29,503.75 L119.44,504.43 L119.59,505.12 L119.75,505.80 L119.90,506.49 L120.05,507.17 L120.20,507.85 L120.36,508.54 L120.52,509.22 L120.67,509.90 L120.83,510.59 L120.99,511.27 L121.15,511.95 L121.31,512.64 L121.47,513.32 L121.63,514.00 L121.79,514.68 L121.96,515.36 L122.12,516.05 L122.29,516.73 L122.45,517.41 L122.62,518.09 L122.79,518.77 L122.96,519.45 L123.13,520.13 L123.30,520.81 L123.47,521.49 L123.65,522.17 L123.82,522.85 L124.00,523.53 L124.17,524.21 L124.35,524.89 L124.53,525.56 L124.71,526.24 L124.89,526.92 L125.07,527.60 L125.25,528.27 L125.44,528.95 L125.62,529.63 L125.81,530.30 L125.99,530.98 L126.18,531.65 L126.37,532.33 L126.56,533.00 L126.75,533.68 L126.94,534.35 L127.14,535.02 L127.33,535.70 L127.53,536.37 L127.72,537.04 L127.92,537.71 L128.12,538.38 L128.32,539.06 L128.52,539.73 L128.73,540.40 L128.93,541.07 L129.14,541.74 L129.34,542.40 L129.55,543.07 L129.76,543.74 L129.97,544.41 L130.18,545.08 L130.39,545.74 L130.61,546.41 L130.82,547.08 L131.04,547.74 L131.25,548.41 L131.47,549.07 L131.69,549.74 L131.92,550.40 L132.14,551.06 L132.36,551.73 L132.59,552.39 L132.81,553.05 L133.04,553.71 L133.27,554.37 L133.50,555.03 L133.73,555.69 L133.97,556.35 L134.20,557.01 L134.44,557.67 L134.68,558.32 L134.92,558.98 L135.16,559.64 L135.40,560.29 L135.64,560.95 L135.89,561.60 L136.13,562.26 L136.38,562.91 L136.63,563.56 L136.88,564.22 L137.13,564.87 L137.38,565.52 L137.64,566.17 L137.90,566.82 L138.15,567.47 L138.41,568.12 L138.67,568.77 L138.94,569.41 L139.20,570.06 L139.46,570.71 L139.73,571.35 L140.00,572.00 L140.27,572.64 L140.54,573.29 L140.81,573.93 L141.09,574.57 L141.37,575.21 L141.65,575.85 L141.93,576.49 L142.21,577.13 L142.50,577.76 L142.78,578.40 L143.08,579.03 L143.37,579.66 L143.67,580.29 L143.97,580.92 L144.28,581.55 L144.59,582.17 L144.90,582.79 L145.22,583.41 L145.54,584.02 L145.87,584.63 L146.20,585.24 L146.54,585.85 L146.88,586.45 L147.22,587.05 L147.58,587.65 L147.93,588.24 L148.30,588.83 L148.67,589.42 L149.04,590.00 L149.43,590.58 L149.81,591.15 L150.21,591.72 L150.61,592.28 L151.02,592.84 L151.44,593.40 L151.86,593.95 L152.29,594.49 L152.73,595.03 L153.18,595.57 L153.64,596.10 L154.10,596.62 L154.57,597.14 L155.06,597.65 L155.55,598.16 L156.04,598.66 L156.55,599.15 L157.07,599.64 L157.59,600.12 L158.13,600.60 L158.67,601.07 L159.22,601.53 L159.77,601.98 L160.34,602.43 L160.91,602.87 L161.48,603.30 L162.07,603.72 L162.65,604.13 L163.25,604.54 L163.85,604.93 L164.46,605.32 L165.07,605.70 L165.68,606.06 L166.31,606.42 L166.93,606.77 L167.56,607.11 L168.19,607.44 L168.83,607.75 L169.47,608.06 L170.11,608.36 L170.76,608.64 L171.41,608.91 L172.06,609.17 L172.72,609.42 L173.37,609.66 L174.03,609.88 L174.69,610.08 L175.35,610.27 L176.01,610.45 L176.68,610.60 L177.34,610.74 L178.01,610.87 L178.68,610.97 L179.34,611.06 L180.01,611.13 L180.68,611.18 L181.34,611.21 L182.01,611.21 L182.68,611.20 L183.34,611.16 L184.01,611.11 L184.67,611.02 L185.33,610.92 L185.99,610.79 L186.65,610.64 L187.31,610.46 L187.96,610.26 L188.61,610.03 L189.26,609.78 L189.91,609.51 L190.56,609.23 L191.21,608.93 L191.86,608.61 L192.50,608.29 L193.15,607.95 L193.79,607.61 L194.43,607.27 L195.08,606.92 L195.72,606.57 L196.37,606.22 L197.01,605.87 L197.66,605.53 L198.31,605.20 L198.96,604.87 L199.61,604.56 L200.26,604.25 L200.91,603.95 L201.57,603.66 L202.22,603.38 L202.88,603.11 L203.54,602.84 L204.19,602.59 L204.85,602.34 L205.51,602.09 L206.18,601.86 L206.84,601.63 L207.50,601.41 L208.17,601.19 L208.83,600.99 L209.50,600.78 L210.17,600.59 L210.84,600.39 L211.51,600.21 L212.18,600.03 L212.85,599.85 L213.52,599.68 L214.20,599.52 L214.87,599.36 L215.55,599.20 L216.22,599.05 L216.90,598.90 L217.58,598.75 L218.25,598.61 L218.93,598.47 L219.61,598.33 L220.29,598.20 L220.98,598.07 L221.66,597.94 L222.34,597.81 L223.02,597.69 L223.71,597.57 L224.39,597.45 L225.08,597.33 L225.76,597.21 L226.45,597.10 L227.14,596.98 L227.82,596.87 L228.51,596.76 L229.20,596.65 L229.89,596.55 L230.58,596.44 L231.27,596.34 L231.96,596.23 L232.65,596.13 L233.34,596.03 L234.03,595.93 L234.72,595.83 L235.42,595.74 L236.11,595.64 L236.80,595.54 L237.49,595.45 L238.19,595.35 L238.88,595.26 L239.58,595.17 L240.27,595.08 L240.96,594.98 L241.66,594.89 L242.35,594.80 L243.05,594.71 L243.74,594.62 L244.44,594.53 L245.13,594.44 L245.83,594.35 L246.52,594.26 L247.22,594.17 L247.92,594.08 L248.61,593.99 L249.31,593.90 L250.00,593.81 L250.70,593.71 L251.39,593.62 L252.09,593.53 L252.78,593.44 L253.48,593.35 L254.17,593.25 L254.87,593.16 L255.56,593.06 L256.26,592.97 L256.95,592.87 L257.65,592.77 L258.34,592.67 L259.03,592.57 L259.73,592.47 L260.42,592.37 L261.11,592.26 L261.81,592.16 L262.50,592.05 L263.19,591.94 L263.88,591.84 L264.57,591.72 L265.27,591.61 L265.96,591.50 L266.65,591.38 L267.34,591.26 L268.02,591.15 L268.71,591.02 L269.40,590.90 L270.09,590.78 L270.78,590.65 L271.46,590.52 L272.15,590.39 L272.83,590.25 L273.52,590.12 L274.20,589.98 L274.89,589.84 L275.57,589.69 L276.25,589.55 L276.93,589.40 L277.61,589.25 L278.30,589.09 L278.97,588.93 L279.65,588.77 L280.33,588.61 L281.01,588.45 L281.68,588.28 L282.36,588.11 L283.03,587.93 L283.71,587.75 L284.38,587.57 L285.05,587.38 L285.72,587.20 L286.39,587.00 L287.06,586.81 L287.73,586.61 L288.40,586.41 L289.07,586.20 L289.73,585.99 L290.40,585.78 L291.06,585.56 L291.72,585.34 L292.38,585.11 L293.04,584.88 L293.70,584.65 L294.36,584.42 L295.02,584.18 L295.67,583.93 L296.33,583.69 L296.98,583.44 L297.63,583.19 L298.29,582.93 L298.94,582.67 L299.58,582.41 L300.23,582.14 L300.88,581.87 L301.53,581.60 L302.17,581.32 L302.81,581.04 L303.46,580.76 L304.10,580.48 L304.74,580.19 L305.38,579.90 L306.01,579.60 L306.65,579.31 L307.29,579.01 L307.92,578.70 L308.55,578.40 L309.18,578.09 L309.81,577.78 L310.44,577.47 L311.07,577.15 L311.70,576.83 L312.32,576.51 L312.95,576.18 L313.57,575.86 L314.19,575.53 L314.81,575.20 L315.43,574.86 L316.05,574.53 L316.67,574.19 L317.28,573.85 L317.89,573.50 L318.51,573.16 L319.12,572.81 L319.73,572.46 L320.34,572.11 L320.94,571.75 L321.55,571.39 L322.15,571.04 L322.76,570.67 L323.36,570.31 L323.96,569.95 L324.56,569.58 L325.15,569.21 L325.75,568.84 L326.34,568.47 L326.94,568.09 L327.53,567.72 L328.12,567.34 L328.71,566.96 L329.29,566.58 L329.88,566.20 L330.46,565.81 L331.05,565.43 L331.63,565.04 L332.21,564.65 L332.79,564.26 L333.36,563.87 L333.94,563.48 L334.51,563.08 L335.08,562.68 L335.65,562.29 L336.22,561.89 L336.79,561.49 L337.36,561.09 L337.92,560.69 L338.48,560.28 L339.05,559.88 L339.61,559.47 L340.17,559.07 L340.73,558.66 L341.28,558.25 L341.84,557.85 L342.40,557.44 L342.95,557.03 L343.51,556.62 L344.07,556.21 L344.62,555.80 L345.18,555.39 L345.74,554.98 L346.30,554.57 L346.85,554.16 L347.41,553.75 L347.97,553.34 L348.53,552.93 L349.10,552.52 L349.66,552.11 L350.23,551.71 L350.79,551.30 L351.36,550.89 L351.93,550.49 L352.51,550.08 L353.08,549.68 L353.66,549.28 L354.24,548.88 L354.82,548.48 L355.41,548.08 L356.00,547.68 L356.59,547.28 L357.19,546.89 L357.78,546.49 L358.39,546.10 L358.99,545.71 L359.60,545.33 L360.21,544.94 L360.83,544.56 L361.45,544.18 L362.08,543.82 L362.71,543.47 L363.34,543.14 L363.98,542.83 L364.62,542.55 L365.26,542.29 L365.91,542.07 L366.57,541.88 L367.22,541.73 L367.88,541.62 L368.54,541.56 L369.21,541.55 L369.88,541.59 L370.56,541.69 L371.23,541.83 L371.91,542.03 L372.58,542.26 L373.25,542.54 L373.91,542.84 L374.56,543.16 L375.20,543.51 L375.83,543.87 L376.44,544.25 L377.04,544.63 L377.62,545.03 L378.19,545.44 L378.75,545.87 L379.30,546.30 L379.83,546.74 L380.36,547.20 L380.87,547.67 L381.37,548.14 L381.85,548.63 L382.33,549.13 L382.80,549.63 L383.25,550.15 L383.70,550.67 L384.13,551.20 L384.56,551.74 L384.97,552.29 L385.38,552.85 L385.78,553.41 L386.17,553.98 L386.55,554.56 L386.92,555.15 L387.29,555.74 L387.65,556.33 L388.00,556.94 L388.34,557.55 L388.68,558.16 L389.01,558.78 L389.33,559.40 L389.65,560.03 L389.97,560.66 L390.27,561.30 L390.58,561.94 L390.88,562.58 L391.17,563.23 L391.46,563.88 L391.75,564.53 L392.03,565.18 L392.31,565.84 L392.58,566.50 L392.85,567.16 L393.12,567.82 L393.39,568.48 L393.66,569.14 L393.92,569.80 L394.18,570.46 L394.45,571.13 L394.71,571.79 L394.97,572.45 L395.23,573.11 L395.48,573.77 L395.74,574.42 L396.00,575.08 L396.26,575.73 L396.52,576.38 L396.79,577.03 L397.05,577.68 L397.31,578.33 L397.58,578.97 L397.84,579.62 L398.11,580.26 L398.38,580.90 L398.65,581.54 L398.92,582.18 L399.20,582.81 L399.47,583.45 L399.75,584.08 L400.04,584.71 L400.32,585.34 L400.61,585.97 L400.90,586.60 L401.19,587.22 L401.49,587.85 L401.79,588.47 L402.09,589.09 L402.40,589.72 L402.71,590.34 L403.02,590.95 L403.34,591.57 L403.66,592.19 L403.99,592.80 L404.32,593.42 L404.66,594.03 L405.00,594.64 L405.34,595.25 L405.69,595.86 L406.05,596.47 L406.41,597.08 L406.78,597.68 L407.15,598.28 L407.53,598.88 L407.91,599.48 L408.30,600.07 L408.70,600.66 L409.10,601.25 L409.50,601.83 L409.92,602.40 L410.34,602.97 L410.76,603.54 L411.19,604.10 L411.63,604.65 L412.08,605.19 L412.53,605.73 L412.99,606.26 L413.45,606.78 L413.92,607.30 L414.40,607.80 L414.89,608.30 L415.38,608.78 L415.88,609.26 L416.39,609.73 L416.91,610.18 L417.43,610.63 L417.96,611.06 L418.50,611.48 L419.05,611.89 L419.60,612.29 L420.16,612.67 L420.74,613.04 L421.31,613.40 L421.90,613.75 L422.49,614.08 L423.10,614.40 L423.70,614.71 L424.32,615.01 L424.94,615.30 L425.57,615.57 L426.20,615.84 L426.84,616.10 L427.49,616.34 L428.14,616.58 L428.79,616.80 L429.45,617.02 L430.12,617.23 L430.78,617.43 L431.46,617.62 L432.14,617.81 L432.82,617.99 L433.50,618.16 L434.19,618.32 L434.88,618.48 L435.57,618.63 L436.27,618.77 L436.97,618.91 L437.67,619.04 L438.37,619.17 L439.07,619.29 L439.78,619.41 L440.48,619.52 L441.19,619.63 L441.90,619.74 L442.60,619.84 L443.31,619.94 L444.02,620.04 L444.73,620.13 L445.43,620.23 L446.14,620.32 L446.85,620.40 L447.55,620.49 L448.26,620.57 L448.96,620.66 L449.67,620.74 L450.37,620.81 L451.07,620.89 L451.78,620.96 L452.48,621.04 L453.18,621.11 L453.88,621.18 L454.58,621.24 L455.29,621.31 L455.99,621.37 L456.69,621.44 L457.39,621.50 L458.09,621.56 L458.79,621.61 L459.48,621.67 L460.18,621.72 L460.88,621.78 L461.58,621.83 L462.28,621.88 L462.98,621.93 L463.67,621.98 L464.37,622.03 L465.07,622.07 L465.76,622.12 L466.46,622.16 L467.16,622.21 L467.85,622.25 L468.55,622.29 L469.25,622.33 L469.94,622.37 L470.64,622.41 L471.33,622.44 L472.03,622.48 L472.72,622.52 L473.42,622.55 L474.12,622.59 L474.81,622.62 L475.51,622.66 L476.20,622.69 L476.90,622.72 L477.59,622.75 L478.29,622.79 L478.98,622.82 L479.68,622.85 L480.37,622.88 L481.07,622.91 L481.77,622.94 L482.46,622.97 L483.16,623.00 L483.85,623.03 L484.55,623.06 L485.25,623.09 L485.94,623.12 L486.64,623.15 L487.33,623.18 L488.03,623.21 L488.73,623.23 L489.42,623.26 L490.12,623.29 L490.82,623.32 L491.51,623.34 L492.21,623.37 L492.91,623.40 L493.60,623.43 L494.30,623.45 L495.00,623.48 L495.69,623.51 L496.39,623.53 L497.09,623.56 L497.78,623.58 L498.48,623.61 L499.18,623.63 L499.88,623.66 L500.57,623.69 L501.27,623.71 L501.97,623.73 L502.67,623.76 L503.36,623.78 L504.06,623.81 L504.76,623.83 L505.46,623.86 L506.16,623.88 L506.85,623.90 L507.55,623.93 L508.25,623.95 L508.95,623.97 L509.65,624.00 L510.34,624.02 L511.04,624.04 L511.74,624.07 L512.44,624.09 L513.14,624.11 L513.83,624.13 L514.53,624.16 L515.23,624.18 L515.93,624.20 L516.63,624.22 L517.33,624.24 L518.03,624.27 L518.72,624.29 L519.42,624.31 L520.12,624.33 L520.82,624.35 L521.52,624.37 L522.22,624.39 L522.92,624.42 L523.62,624.44 L524.32,624.46 L525.01,624.48 L525.71,624.50 L526.41,624.52 L527.11,624.54 L527.81,624.56 L528.51,624.58 L529.21,624.60 L529.91,624.62 L530.61,624.64 L531.31,624.66 L532.01,624.68 L532.71,624.70 L533.41,624.72 L534.11,624.74 L534.80,624.76 L535.50,624.78 L536.20,624.80 L536.90,624.82 L537.60,624.84 L538.30,624.86 L539.00,624.88 L539.70,624.90 L540.40,624.92 L541.10,624.94 L541.80,624.96 L542.50,624.97 L543.20,624.99 L543.90,625.01 L544.60,625.03 L545.30,625.05 L546.00,625.07 L546.70,625.09 L547.40,625.11 L548.10,625.13 L548.80,625.15 L549.50,625.17 L550.20,625.18 L550.90,625.20 L551.60,625.22 L552.30,625.24 L553.00,625.26 L553.70,625.28 L554.40,625.30 L555.10,625.32 L555.80,625.34 L556.50,625.36 L557.20,625.38 L557.90,625.39 L558.60,625.41 L559.30,625.43 L560.00,625.45 L560.70,625.47 L561.40,625.49 L562.10,625.51 L562.80,625.53 L563.50,625.55 L564.20,625.57 L564.90,625.59 L565.60,625.61 L566.30,625.63 L567.00,625.65 L567.70,625.66 L568.40,625.68 L569.10,625.70 L569.80,625.72 L570.50,625.74 L571.20,625.76 L571.90,625.78 L572.60,625.80 L573.30,625.82 L574.00,625.84 L574.70,625.86 L575.40,625.88 L576.10,625.90 L576.80,625.92 L577.50,625.94 L578.20,625.97 L578.90,625.99 L579.60,626.01 L580.30,626.03 L581.00,626.05 L581.70,626.07 L582.40,626.09 L583.10,626.11 L583.80,626.13 L584.50,626.15 L585.20,626.18 L585.90,626.20 L586.60,626.22 L587.30,626.24 L588.00,626.26 L588.70,626.28 L589.40,626.31 L590.10,626.33 L590.80,626.35 L591.50,626.37 L592.20,626.40 L592.90,626.42 L593.60,626.44 L594.30,626.46 L595.00,626.49 L595.70,626.51 L596.40,626.53 L597.10,626.56 L597.80,626.58 L598.50,626.61 L599.20,626.63 L599.90,626.65 L600.60,626.68 L601.30,626.70 L602.00,626.73 L602.70,626.75 L603.40,626.78 L604.10,626.80 L604.80,626.83 L605.49,626.85 L606.19,626.88 L606.89,626.90 L607.59,626.93 L608.29,626.96 L608.99,626.98 L609.69,627.01 L610.39,627.03 L611.09,627.06 L611.79,627.09 L612.49,627.12 L613.19,627.14 L613.88,627.17 L614.58,627.20 L615.28,627.23 L615.98,627.25 L616.68,627.28 L617.38,627.31 L618.08,627.34 L618.78,627.37 L619.47,627.40 L620.17,627.43 L620.87,627.46 L621.57,627.49 L622.27,627.52 L622.97,627.55 L623.66,627.58 L624.36,627.61 L625.06,627.64 L625.76,627.67 L626.46,627.70 L627.16,627.73 L627.85,627.77 L628.55,627.80 L629.25,627.83 L629.95,627.86 L630.64,627.90 L631.34,627.93 L632.04,627.96 L632.74,628.00 L633.44,628.03 L634.13,628.06 L634.83,628.10 L635.53,628.13 L636.23,628.17 L636.92,628.20 L637.62,628.24 L638.32,628.27 L639.01,628.31 L639.71,628.35 L640.41,628.38 L641.11,628.42 L641.80,628.46 L642.50,628.50 L643.20,628.53 L643.89,628.57 L644.59,628.61 L645.29,628.65 L645.98,628.69 L646.68,628.73 L647.38,628.77 L648.07,628.80 L648.77,628.85 L649.46,628.89" fill="none" stroke="#6290bf" stroke-width="2.15" stroke-linejoin="round" stroke-linecap="round"/>
<path d="M89.10,569.20 L104.50,569.20 L107.00,568.80 L128.00,568.50 L137.90,568.00 L145.30,567.50 L152.70,567.70 L160.00,568.50 L168.20,568.90 L175.80,569.10 L178.20,568.50 L181.00,567.20 L185.50,565.60 L192.00,563.20 L200.00,560.67 L225.00,553.18 L250.00,545.78 L275.00,538.45 L300.00,531.17 L325.00,523.93 L350.00,516.70 L375.00,509.45 L400.00,502.18 L425.00,494.86 L450.00,487.47 L475.00,479.99 L500.00,472.39 L525.00,464.67 L549.00,458.00 L556.00,456.20 L562.00,454.60 L566.00,454.00 L569.60,453.80 L573.70,454.30 L577.80,456.00 L584.00,459.10 L590.90,462.70 L597.70,466.30 L604.60,469.80 L611.90,473.40 L618.70,477.10 L625.60,480.70 L632.40,484.10 L639.30,487.30 L646.20,490.10 L649.50,491.20" fill="none" stroke="#000" stroke-width="2.2" stroke-linejoin="round" stroke-linecap="round"/>
<path d="M89.35,403.10 V636.20" stroke="#000" stroke-width="1.8" fill="none"/>
<path d="M88,403.90 H650.4" stroke="#000" stroke-width="1.5" fill="none"/>
<path d="M649.5,403.10 V636.20" stroke="#000" stroke-width="1.7" fill="none"/>
<text x="11.4" y="711.0" font-size="29.5" font-weight="bold" fill="#000" stroke="#000" stroke-width="0.9" textLength="18.8" lengthAdjust="spacingAndGlyphs">B</text>
<rect x="83.9" y="690.2" width="553.2" height="25.7" fill="#fff"/>
<path d="M224.3,703.40 H245.7" stroke="#5f84aa" stroke-width="2.2"/>
<text x="248.2" y="706.80" font-size="11" fill="#262626" stroke="#262626" stroke-width="0.3" textLength="36" lengthAdjust="spacingAndGlyphs">Fid(Uv)</text>
<path d="M425.1,703.10 H445.9" stroke="#000" stroke-width="2.2"/>
<text x="449" y="706.80" font-size="11" fill="#262626" stroke="#262626" stroke-width="0.3" textLength="48.5" lengthAdjust="spacingAndGlyphs">Temp (°C)</text>
</svg>
</body></html>
